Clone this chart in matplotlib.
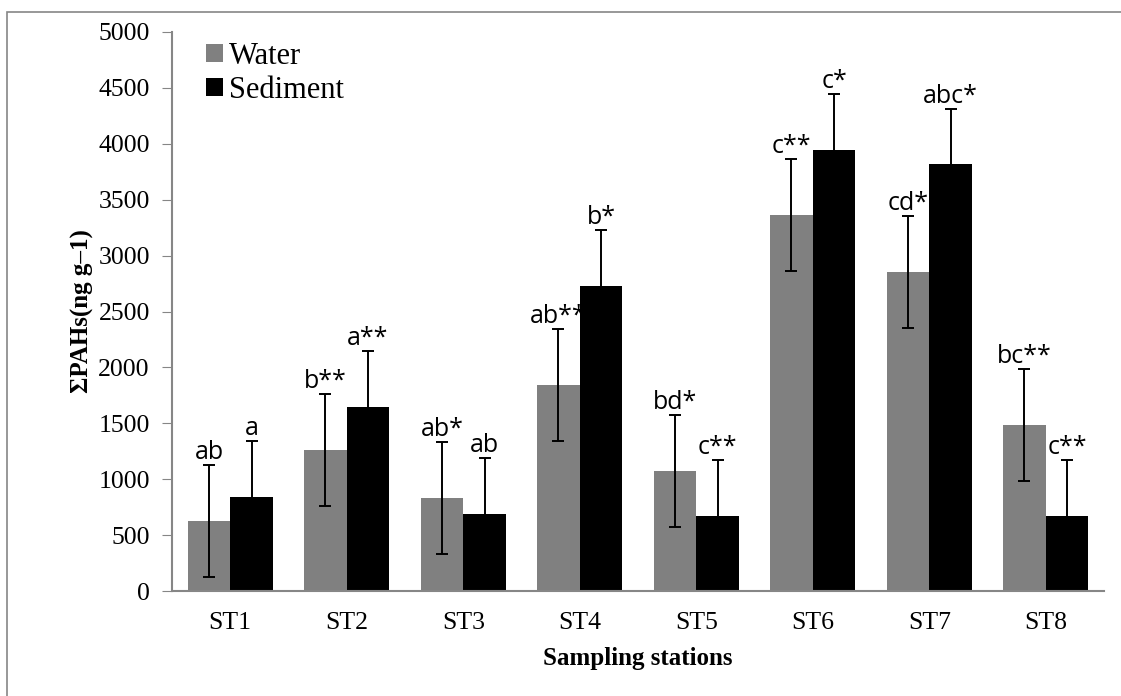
import numpy as np
import matplotlib
matplotlib.use('Agg')
import matplotlib.pyplot as plt
from matplotlib.patches import Rectangle

stations = ['ST1', 'ST2', 'ST3', 'ST4', 'ST5', 'ST6', 'ST7', 'ST8']
water = [625, 1260, 830, 1845, 1075, 3360, 2855, 1485]
sediment = [840, 1650, 690, 2730, 675, 3945, 3815, 675]
water_err = [500, 500, 500, 500, 500, 500, 500, 500]
sediment_err = [500, 500, 500, 500, 500, 500, 500, 500]
water_lab = ['ab', 'b**', 'ab*', 'ab**', 'bd*', 'c**', 'cd*', 'bc**']
sediment_lab = ['a', 'a**', 'ab', 'b*', 'c**', 'c*', 'abc*', 'c**']

serif = 'Liberation Serif'
fig = plt.figure(figsize=(11.21, 6.96), dpi=100)
ax = fig.add_axes([172/1121, 105/696, 932/1121, 559/696])

x = np.arange(len(stations))
w = 0.365
ax.bar(x - w/2, water, w, color='#808080', label='Water', zorder=2)
ax.bar(x + w/2, sediment, w, color='black', label='Sediment', zorder=2)
ekw = dict(fmt='none', ecolor='black', elinewidth=1.4, capsize=4.5, capthick=1.4, zorder=3)
ax.errorbar(x - w/2, water, yerr=water_err, **ekw)
ax.errorbar(x + w/2, sediment, yerr=sediment_err, **ekw)

# letters over the error bars
for i in range(len(stations)):
    ax.text(x[i] - w/2, water[i] + water_err[i], water_lab[i], ha='center', va='bottom',
            fontsize=18, family='Open Sans', zorder=4)
    ax.text(x[i] + w/2, sediment[i] + sediment_err[i], sediment_lab[i], ha='center', va='bottom',
            fontsize=18, family='Open Sans', zorder=4)

ax.set_xlim(-0.5, len(stations) - 0.5)
ax.set_ylim(0, 5000)
ax.set_yticks(np.arange(0, 5001, 500))
ax.set_xticks(x)
ax.set_xticklabels(stations)
for lab in ax.get_xticklabels() + ax.get_yticklabels():
    lab.set_family(serif)
    lab.set_fontsize(18.5)
ax.tick_params(axis='y', direction='out', length=7, color='#868686', pad=9)
ax.tick_params(axis='x', length=0, pad=15)
for s in ['top', 'right']:
    ax.spines[s].set_visible(False)
for s in ['left', 'bottom']:
    ax.spines[s].set_color('#868686')
    ax.spines[s].set_linewidth(1.5)

ax.set_xlabel('Sampling stations', family=serif, fontweight='bold', fontsize=18, va='center')
ax.xaxis.set_label_coords(0.5, -68/559)
ax.set_ylabel('ΣPAHs(ng g–1)', family=serif, fontweight='bold', fontsize=18, va='center')
ax.yaxis.set_label_coords(-90/932, 0.5)

ax.legend(loc='upper left', bbox_to_anchor=(0.017, 1.015), frameon=False,
          prop={'family': serif, 'size': 22}, handlelength=0.55, handleheight=0.55,
          handletextpad=0.2, labelspacing=0.15, borderaxespad=0.2)

# outer chart border
fig.patches.append(Rectangle((7/1121, -0.1), 1.2, (696 - 12)/696 + 0.1, transform=fig.transFigure,
                             fill=False, edgecolor='#868686', linewidth=1.2))

fig.savefig('out.png', dpi=100)
